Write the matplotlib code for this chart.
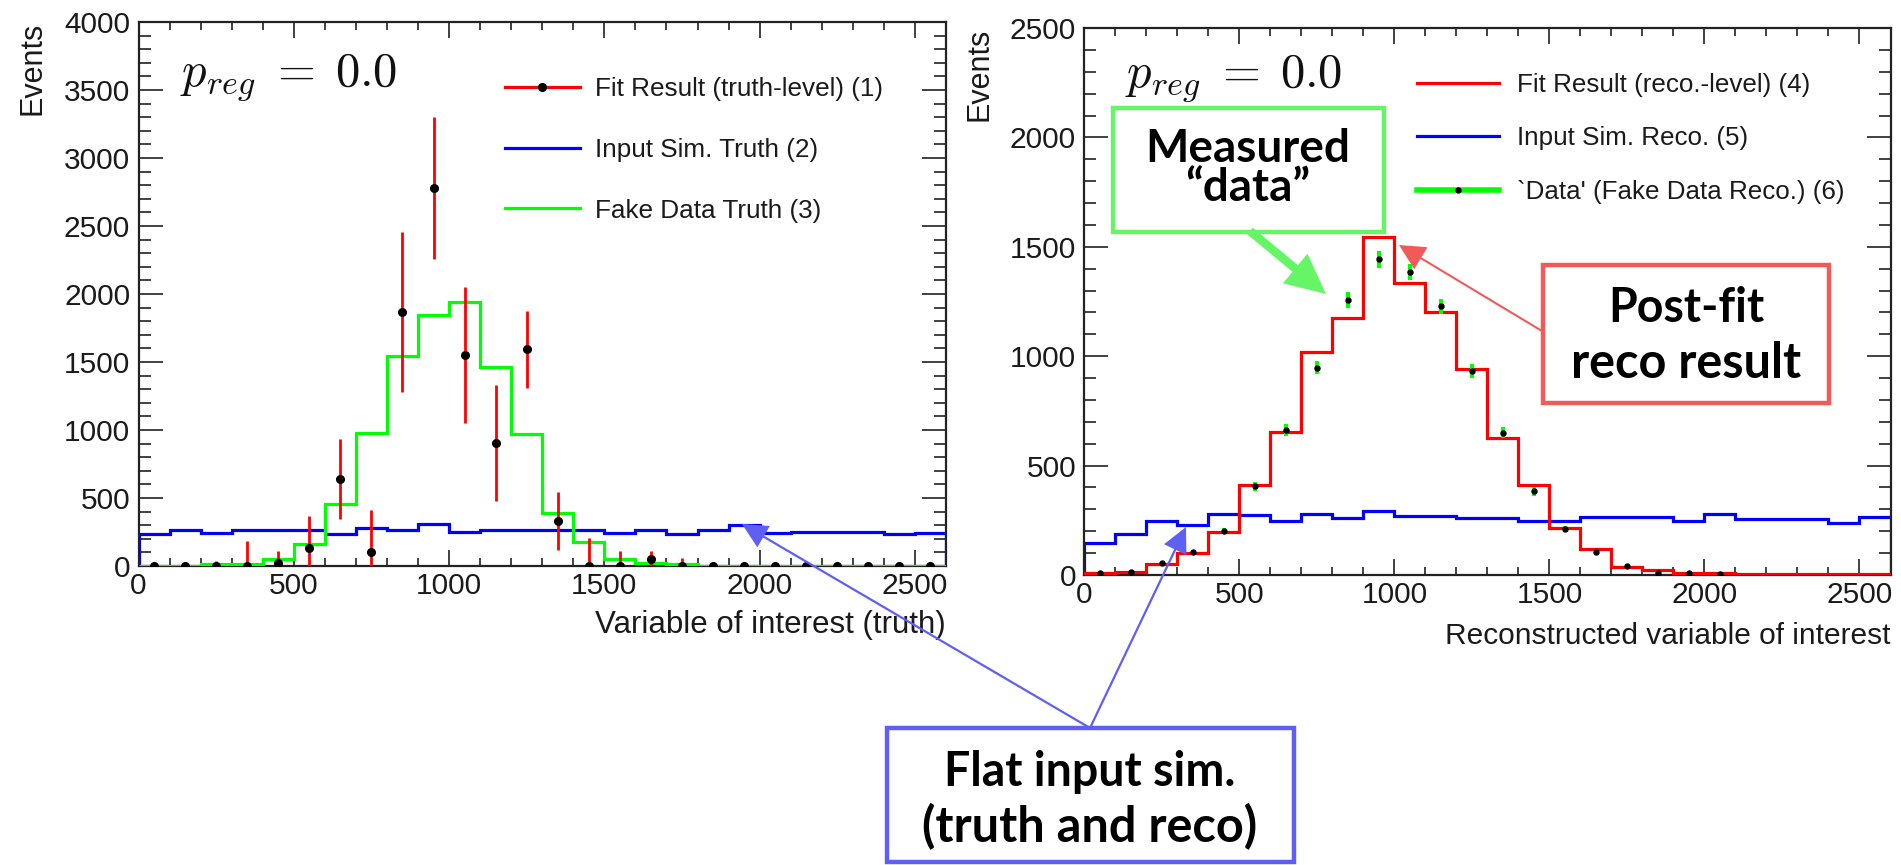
import numpy as np
import matplotlib
matplotlib.use("Agg")
import matplotlib.pyplot as plt
from matplotlib.lines import Line2D
from matplotlib.patches import Rectangle, FancyArrowPatch, ArrowStyle
from matplotlib.ticker import MultipleLocator

# ---------------------------------------------------------------------------
# Histogram contents (26 bins of width 100 between 0 and 2600)
# ---------------------------------------------------------------------------
bin_edges = np.arange(0, 2700, 100)
bin_centers = 0.5 * (bin_edges[:-1] + bin_edges[1:])

# truth level
fake_data_truth = [0, 0, 12, 12, 51, 160, 455, 978, 1545, 1845, 1940, 1465, 970,
                   393, 173, 51, 24, 12, 0, 0, 0, 0, 0, 0, 0, 0]
input_sim_truth = [234, 266, 241, 266, 266, 266, 232, 280, 266, 307, 251, 266, 266,
                   262, 266, 239, 266, 232, 266, 298, 241, 251, 251, 251, 232, 241]
fit_result_truth = [0, 0, 0, 0, 24, 129, 639, 100, 1868, 2780, 1551, 905, 1592,
                    332, 0, 0, 51, 0, 0, 0, 0, 0, 0, 0, 0, 0]
fit_result_truth_err = [10, 10, 37, 183, 88, 237, 293, 310, 588, 520, 500, 425, 280,
                        213, 207, 110, 60, 56, 30, 24, 10, 10, 10, 10, 10, 10]

# reco level
fit_result_reco = [11, 15, 49, 102, 197, 410, 653, 1020, 1176, 1544, 1333, 1203, 940,
                   627, 413, 217, 120, 37, 25, 11, 8, 6, 6, 4, 3, 3]
input_sim_reco = [147, 187, 245, 228, 280, 275, 245, 280, 260, 294, 271, 271, 260,
                  260, 245, 245, 265, 265, 265, 245, 278, 255, 255, 255, 237, 265]
fake_data_reco = [11, 15, 54, 104, 203, 405, 662, 948, 1257, 1442, 1384, 1228, 933,
                  650, 382, 210, 104, 43, 11, 11, 4,
                  np.nan, np.nan, np.nan, np.nan, np.nan]
fake_data_reco_err = [3, 4, 7, 10, 14, 20, 26, 31, 35, 38, 37, 35, 31,
                      25, 20, 14, 10, 7, 3, 3, 2,
                      np.nan, np.nan, np.nan, np.nan, np.nan]

truth_labels = ["Fit Result (truth-level) (1)", "Input Sim. Truth (2)", "Fake Data Truth (3)"]
reco_labels = ["Fit Result (reco.-level) (4)", "Input Sim. Reco. (5)", "`Data' (Fake Data Reco.) (6)"]
xlabel_truth = "Variable of interest (truth)"
xlabel_reco = "Reconstructed variable of interest"
preg_text = r"$p_{reg}\;=\;0.0$"

# ---------------------------------------------------------------------------
W, H, DPI = 1901, 865, 100
plt.rcParams['font.family'] = ['Liberation Sans', 'DejaVu Sans']
plt.rcParams['mathtext.fontset'] = 'cm'

RED, BLUE, GREEN = '#ff0000', '#0000ff', '#00ff00'
TXT = '#1a1a1a'

fig = plt.figure(figsize=(W / DPI, H / DPI), dpi=DPI)
fig.patch.set_facecolor('white')


def fig_rect(x0, y0, x1, y1):
    """pixel box (top-left origin) -> figure fraction rect"""
    return [x0 / W, 1 - y1 / H, (x1 - x0) / W, (y1 - y0) / H]


def fpt(x, y):
    return (x / W, 1 - y / H)


ax_l = fig.add_axes(fig_rect(138.5, 22, 946, 566))
ax_r = fig.add_axes(fig_rect(1084.3, 28, 1890.5, 575))


def style_axes(ax, ymax):
    ax.set_xlim(0, 2600)
    ax.set_ylim(0, ymax)
    ax.xaxis.set_major_locator(MultipleLocator(500))
    ax.xaxis.set_minor_locator(MultipleLocator(100))
    ax.yaxis.set_major_locator(MultipleLocator(500))
    ax.yaxis.set_minor_locator(MultipleLocator(100))
    ax.tick_params(which='both', direction='in', top=True, right=True,
                   width=1.3, color='#333333', labelsize=21.5, labelcolor=TXT)
    ax.tick_params(axis='x', which='major', length=11.5, pad=4)
    ax.tick_params(axis='x', which='minor', length=5.8)
    ax.tick_params(axis='y', which='major', length=17.6, pad=6)
    ax.tick_params(axis='y', which='minor', length=8.8)
    for sp in ax.spines.values():
        sp.set_linewidth(1.6)
        sp.set_color('#222222')


style_axes(ax_l, 4000)
style_axes(ax_r, 2500)

# ---- truth-level panel ----
ax_l.stairs(input_sim_truth, bin_edges, color=BLUE, lw=2.3, zorder=2)
ax_l.stairs(fake_data_truth, bin_edges, color=GREEN, lw=2.3, zorder=3)
ax_l.errorbar(bin_centers, fit_result_truth, yerr=fit_result_truth_err, fmt='o',
              color='k', ms=5.5, ecolor=RED, elinewidth=2.0, capsize=0, zorder=4)

h_l = [Line2D([], [], color=RED, lw=2.3, marker='o', ms=5.5, mfc='k', mec='k'),
       Line2D([], [], color=BLUE, lw=2.3),
       Line2D([], [], color=GREEN, lw=2.3)]
ax_l.legend(h_l, truth_labels, loc='upper left', bbox_to_anchor=(0.454, 0.898),
            frameon=False, fontsize=18.8, handlelength=2.85, handletextpad=0.6,
            labelspacing=1.4, borderpad=0, borderaxespad=0, labelcolor=TXT)

ax_l.text(0.052, 0.882, preg_text, transform=ax_l.transAxes, fontsize=35,
          ha='left', va='baseline', color='#111111')

ax_l.set_xlabel(xlabel_truth, fontsize=22.5, color=TXT, ha='right', va='center')
ax_l.xaxis.set_label_coords(1.0, (566 - 625) / 544)
ax_l.set_ylabel('Events', fontsize=22, color=TXT, ha='right', va='baseline')
ax_l.yaxis.set_label_coords((40 - 138.5) / 807.5, 1.0)

# ---- reco-level panel ----
ax_r.stairs(input_sim_reco, bin_edges, color=BLUE, lw=2.3, zorder=2)
ax_r.stairs(fit_result_reco, bin_edges, color=RED, lw=2.3, zorder=3)
ax_r.errorbar(bin_centers, fake_data_reco, yerr=fake_data_reco_err, fmt='o',
              color='k', ms=3.6, ecolor=GREEN, elinewidth=3.0, capsize=0, zorder=4)

h_r = [Line2D([], [], color=RED, lw=2.3),
       Line2D([], [], color=BLUE, lw=2.3),
       Line2D([], [], color=GREEN, lw=4.0, marker='o', ms=3.6, mfc='k', mec='k')]
ax_r.legend(h_r, reco_labels, loc='upper left', bbox_to_anchor=(0.413, 0.918),
            frameon=False, fontsize=18.7, handlelength=3.15, handletextpad=0.7,
            labelspacing=1.14, borderpad=0, borderaxespad=0, labelcolor=TXT)

ax_r.text(0.051, 0.892, preg_text, transform=ax_r.transAxes, fontsize=35,
          ha='left', va='baseline', color='#111111')

ax_r.set_xlabel(xlabel_reco, fontsize=21.5, color=TXT, ha='right', va='center')
ax_r.xaxis.set_label_coords(1.0, (575 - 636.5) / 547)
ax_r.set_ylabel('Events', fontsize=22, color=TXT, ha='right', va='baseline')
ax_r.yaxis.set_label_coords((988 - 1084.3) / 806, 1.0)

# ---------------------------------------------------------------------------
# Call-out boxes and arrows (figure pixel layout)
# ---------------------------------------------------------------------------
C_GREEN, C_RED, C_BLUE = '#66f566', '#f25a5a', '#5f5ff5'
ANN_FONT = dict(family=['Lato', 'DejaVu Sans'], weight='bold', color='black')


def box(x0, y0, x1, y1, color):
    r = Rectangle(fpt(x0, y1), (x1 - x0) / W, (y1 - y0) / H,
                  transform=fig.transFigure, facecolor='white', edgecolor=color,
                  lw=3.2, zorder=5)
    fig.add_artist(r)


def arrow(p0, p1, color, head_len, head_w, tail_w):
    a = FancyArrowPatch(fpt(*p0), fpt(*p1), transform=fig.transFigure,
                        arrowstyle=ArrowStyle.Simple(head_length=head_len,
                                                     head_width=head_w,
                                                     tail_width=tail_w),
                        mutation_scale=1, color=color, lw=0, shrinkA=0, shrinkB=0,
                        zorder=6)
    fig.add_artist(a)


# measured data
box(1112.5, 108.3, 1383.5, 231.7, C_GREEN)
fig.text(*fpt(1248, 161.7), "Measured", ha='center', va='baseline', fontsize=33,
         zorder=7, **ANN_FONT)
fig.text(*fpt(1248, 201), "\u201cdata\u201d", ha='center', va='baseline', fontsize=33,
         zorder=7, **ANN_FONT)
arrow((1250, 231), (1326, 294), C_GREEN, 28.8, 27.7, 6.2)

# post-fit reco result
box(1543, 265, 1829, 402.7, C_RED)
fig.text(*fpt(1686, 321.8), "Post-fit", ha='center', va='baseline', fontsize=33.5,
         zorder=7, **ANN_FONT)
fig.text(*fpt(1686, 378), "reco result", ha='center', va='baseline', fontsize=35,
         zorder=7, **ANN_FONT)
arrow((1542, 331), (1399, 245), C_RED, 18.4, 18.4, 1.5)

# flat input simulation
box(887, 728, 1294, 862, C_BLUE)
fig.text(*fpt(1090, 786), "Flat input sim.", ha='center', va='baseline', fontsize=33.5,
         zorder=7, **ANN_FONT)
fig.text(*fpt(1090, 841.7), "(truth and reco)", ha='center', va='baseline', fontsize=35,
         zorder=7, **ANN_FONT)
arrow((1090, 728), (742, 524), C_BLUE, 18.0, 17.8, 1.6)
arrow((1090, 728), (1186, 527), C_BLUE, 18.0, 17.8, 1.6)

fig.savefig('out.png', dpi=DPI, facecolor='white')
